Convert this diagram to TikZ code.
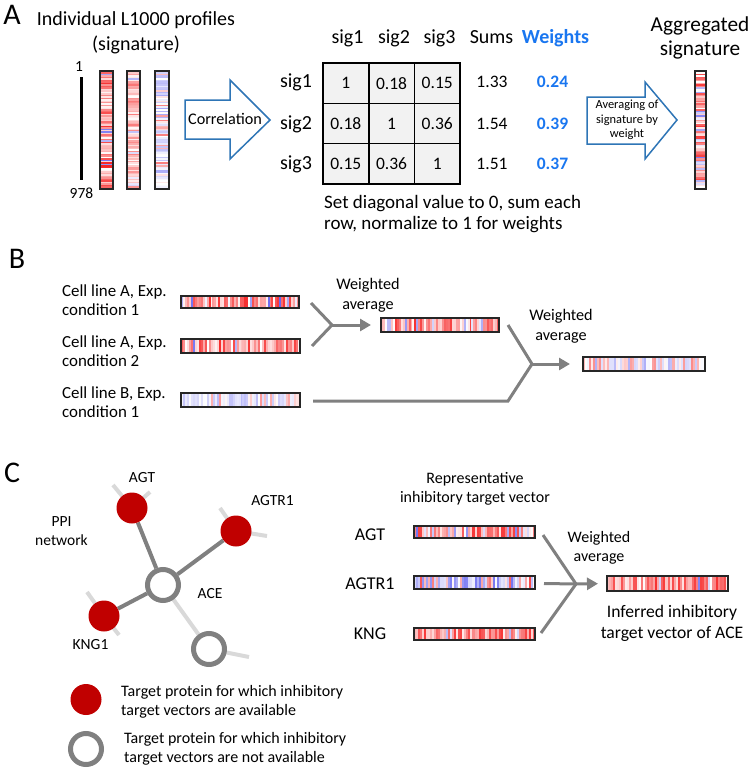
\documentclass[tikz,border=0pt]{standalone}
\usepackage{fontspec}
\setmainfont{Carlito}
\usetikzlibrary{calc,arrows.meta,backgrounds}

\definecolor{arrowblue}{RGB}{46,117,182}
\definecolor{weightblue}{RGB}{25,118,240}
\definecolor{protred}{RGB}{192,0,0}
\definecolor{edgegray}{RGB}{128,128,128}
\definecolor{stubgray}{RGB}{217,217,217}
\definecolor{cellgray}{RGB}{242,242,242}
\definecolor{sigred}{RGB}{245,20,20}
\definecolor{sigblue}{RGB}{50,50,235}

% colour of one stripe: share of blue, strongest tint
\newcommand{\pickstripe}[2]{%
  \pgfmathsetmacro\sgu{rnd}%
  \pgfmathsetmacro\sgv{rnd}%
  \ifdim\sgu pt<#1pt
    \pgfmathtruncatemacro\sgp{#2*\sgv*0.8}\edef\sgcol{sigblue!\sgp!white}%
  \else
    \pgfmathtruncatemacro\sgp{#2*\sgv}\edef\sgcol{sigred!\sgp!white}%
  \fi}

% horizontal signature: name, x1, y1, x2, y2, stripes, blue share, tint
\newcommand{\hsig}[8]{%
  \pgfmathsetmacro\sgw{(#4-#2)/#6}%
  \foreach \k in {1,...,#6}{%
    \pickstripe{#7}{#8}%
    \fill[\sgcol] ({#2+(\k-1)*\sgw},#3) rectangle ({#2+\k*\sgw},#5);
  }%
  \node[sigframe, anchor=north west, minimum width={(#4-#2)*1pt},
    minimum height={(#5-#3)*1pt}] (#1) at (#2,#3) {};}

% vertical signature, same arguments
\newcommand{\vsig}[8]{%
  \pgfmathsetmacro\sgw{(#5-#3)/#6}%
  \foreach \k in {1,...,#6}{%
    \pickstripe{#7}{#8}%
    \fill[\sgcol] (#2,{#3+(\k-1)*\sgw}) rectangle (#4,{#3+\k*\sgw});
  }%
  \node[sigframe, anchor=north west, minimum width={(#4-#2)*1pt},
    minimum height={(#5-#3)*1pt}] (#1) at (#2,#3) {};}

\tikzset{
  sigframe/.style={draw=black!85, line width=1.3pt, inner sep=0pt, outer sep=0pt},
  panel/.style={font=\fontsize{30}{36}\selectfont, inner sep=0pt},
  head/.style={font=\fontsize{20}{25}\selectfont, align=center, inner sep=0pt},
  lbl/.style={font=\fontsize{15.5}{19}\selectfont, align=center, inner sep=0pt},
  sig/.style={font=\fontsize{20}{24}\selectfont, anchor=base, inner sep=0pt},
  num/.style={font=\fontsize{17.5}{20}\selectfont, anchor=base, inner sep=0pt},
  wnum/.style={num, text=weightblue, font=\fontsize{17.5}{20}\selectfont\bfseries},
  cell/.style={draw=black, line width=1.6pt, fill=cellgray, minimum width=45.7pt,
    minimum height=40.3pt, inner sep=0pt, font=\fontsize{17.5}{20}\selectfont},
  blockarrow/.style={draw=arrowblue, line width=1.5pt, fill=white, line join=miter},
  merge/.style={draw=edgegray, line width=3pt},
  mergeto/.style={merge, -{Triangle[length=11pt,width=12pt]}},
  prot/.style={circle, fill=protred, minimum size=31pt, inner sep=0pt},
  noprot/.style={circle, draw=edgegray, fill=white, line width=5pt, minimum size=31pt, inner sep=0pt},
  ppi/.style={draw=edgegray, line width=4pt},
  stub/.style={draw=stubgray, line width=4pt},
}

\begin{document}
\begin{tikzpicture}[x=1pt, y=-1pt]
\useasboundingbox (0,0) rectangle (750,768);
\pgfmathsetseed{11}

% ---------- A ----------
\node[panel] (labA) at (12,15) {A};
\node[head] (indiv) at (136,32.5) {Individual L1000 profiles\\(signature)};
\node[lbl, inner sep=1pt] (top1) at (79,67) {1};
\node[lbl, inner sep=1pt] (top978) at (81.5,193) {978};
\draw[line width=3pt, shorten <=4pt, shorten >=6pt] (top978.north |- top1.south) -- (top978.north);

\vsig{sA1}{100}{71}{113}{189}{80}{0.08}{95}
\vsig{sA2}{127}{71}{140}{189}{80}{0.06}{60}
\vsig{sA3}{155}{71}{169}{189}{80}{0.75}{55}

\draw[blockarrow] (185,100) -- (230,100) -- (230,80) -- (270,120)
  -- (230,159) -- (230,139) -- (185,139) -- cycle;
\node[lbl, font=\fontsize{16.2}{19}\selectfont] (corr) at (225,119) {Correlation};

% correlation matrix
\foreach \vals [count=\r] in {{1,0.18,0.15},{0.18,1,0.36},{0.15,0.36,1}}
  \foreach \v [count=\c] in \vals
    \node[cell] (m\r\c) at ({323+45.7*(\c-0.5)},{63+40.3*(\r-0.5)}) {\v};

\node[sig] (colS1) at (347.5,44) {sig1};
\node[sig] (colS2) at (394,44) {sig2};
\node[sig] (colS3) at (439.5,44) {sig3};
\node[sig] (colSum) at (491.5,44) {Sums};
\node[sig, text=weightblue, font=\fontsize{20}{24}\selectfont\bfseries] (colW) at (555.5,44) {Weights};

\foreach \y/\s/\w [count=\r] in {88/1.33/0.24, 129/1.54/0.39, 169/1.51/0.37} {
  \node[sig] (row\r) at (296,\y) {sig\r};
  \node[num] (sum\r) at (492,\y) {\s};
  \node[wnum] (w\r) at (552.5,\y) {\w};
}

\node[lbl, font=\fontsize{19}{21}\selectfont, align=left, anchor=west] (note) at (324,214.5)
  {Set diagonal value to 0, sum each\\row, normalize to 1 for weights};

\draw[blockarrow] (587,97) -- (645,97) -- (645,82) -- (677,120)
  -- (645,159) -- (645,144) -- (587,144) -- cycle;
\node[lbl, font=\fontsize{12.4}{14.5}\selectfont] (avgw) at (627,120) {Averaging of\\signature by\\weight};

\node[head, font=\fontsize{21.3}{24}\selectfont] (aggr) at (700,37.5) {Aggregated\\signature};
\vsig{sAgg}{695}{71}{706}{189}{80}{0.25}{85}

% ---------- B ----------
\node[panel] (labB) at (17,259) {B};
\node[lbl, align=left, anchor=west, font=\fontsize{16.9}{19}\selectfont] (cA1) at (62,300) {Cell line A, Exp.\\condition 1};
\node[lbl, align=left, anchor=west, font=\fontsize{16.9}{19}\selectfont] (cA2) at (62,351.5) {Cell line A, Exp.\\condition 2};
\node[lbl, align=left, anchor=west, font=\fontsize{16.9}{19}\selectfont] (cB1) at (62,402) {Cell line B, Exp.\\condition 1};

\hsig{bA1}{181}{296}{299}{308}{60}{0.1}{95}
\hsig{bA2}{181}{339}{300}{353}{60}{0.08}{90}
\hsig{bB1}{181}{393}{300}{407}{60}{0.7}{45}
\hsig{bAv}{381}{318}{499}{332}{60}{0.2}{90}
\hsig{bFin}{583}{357}{705}{371}{60}{0.65}{50}

\coordinate (jB1) at (332,325);
\coordinate (jB2) at (532,364);
\coordinate (kB2) at (508,401);
\draw[merge] ($(bA1.east)+(12,1)$) -- (jB1) -- ($(bA2.east)+(12,0)$);
\draw[mergeto, shorten >=10pt] (jB1) -- (bAv.west);
\node[lbl, font=\fontsize{16.2}{20}\selectfont] (wavg1) at (368,295) {Weighted\\average};

\draw[merge] ($(bAv.east)+(9,0)$) -- (jB2) -- (kB2) -- ($(bB1.east)+(13,1)$);
\draw[mergeto, shorten >=13pt] (jB2) -- (bFin.west);
\node[lbl, font=\fontsize{16.2}{20}\selectfont] (wavg2) at (561,326) {Weighted\\average};

% ---------- C ----------
\node[panel] (labC) at (12,473) {C};

\node[prot] (agt) at (132,508) {};
\node[prot] (agtr) at (236,531) {};
\node[noprot] (ace) at (163,585) {};
\node[prot] (kng) at (104,616) {};
\node[noprot] (other) at (209,649) {};

\begin{scope}[on background layer]
  \draw[stub] (agt.center) -- (113,485);
  \draw[stub] (agt.center) -- (150,492);
  \draw[stub] (agtr.center) -- (220,508);
  \draw[stub] (agtr.center) -- (267,536);
  \draw[stub] (kng.center) -- (87,592);
  \draw[stub] (kng.center) -- (119,635);
  \draw[stub] (other.center) -- (249,657);
  \draw[stub] (ace) -- (other);
  \draw[ppi] (agt) -- (ace);
  \draw[ppi] (agtr) -- (ace);
  \draw[ppi] (kng) -- (ace);
\end{scope}

\node[lbl] (nAgt) at (142,478) {AGT};
\node[lbl] (nAgtr) at (272.5,501) {AGTR1};
\node[lbl] (ppinet) at (61.5,531) {PPI\\network};
\node[lbl] (nAce) at (210,593.5) {ACE};
\node[lbl] (nKng) at (90.5,644.5) {KNG1};

\node[prot] (legAv) at (86,699.5) {};
\node[lbl, align=left, anchor=west, font=\fontsize{16}{19}\selectfont] (legAvTxt) at (121,701.5)
  {Target protein for which inhibitory\\target vectors are available};
\node[noprot] (legNo) at (86,749) {};
\node[lbl, align=left, anchor=west, font=\fontsize{16}{19}\selectfont] (legNoTxt) at (124,748.5)
  {Target protein for which inhibitory\\target vectors are not available};

\node[lbl, font=\fontsize{16}{19}\selectfont] (repr) at (475,488.5) {Representative\\inhibitory target vector};
\node[lbl, font=\fontsize{18}{22}\selectfont] (rAgt) at (370,535) {AGT};
\node[lbl, font=\fontsize{18}{22}\selectfont] (rAgtr) at (370,584) {AGTR1};
\node[lbl, font=\fontsize{18}{22}\selectfont] (rKng) at (370,634) {KNG};

\hsig{vAgt}{414}{526}{535}{538}{60}{0.12}{85}
\hsig{vAgtr}{414}{576}{535}{589}{60}{0.7}{85}
\hsig{vKng}{414}{628}{535}{640}{60}{0.15}{85}
\hsig{vAce}{607}{576}{728}{591}{60}{0.12}{90}

\coordinate (jC) at (576,584);
\draw[merge] ($(vAgt.east)+(8,3)$) -- (jC) -- ($(vKng.east)+(6,-1)$);
\draw[merge] ($(vAgtr.east)+(9,1)$) -- (jC);
\draw[mergeto, shorten >=9pt] (jC) -- (vAce.west);
\node[lbl, font=\fontsize{16}{19}\selectfont] (wavg3) at (599,547.5) {Weighted\\average};
\node[lbl, font=\fontsize{17.6}{21}\selectfont] (infer) at (672,623.5) {Inferred inhibitory\\target vector of ACE};

\end{tikzpicture}
\end{document}
